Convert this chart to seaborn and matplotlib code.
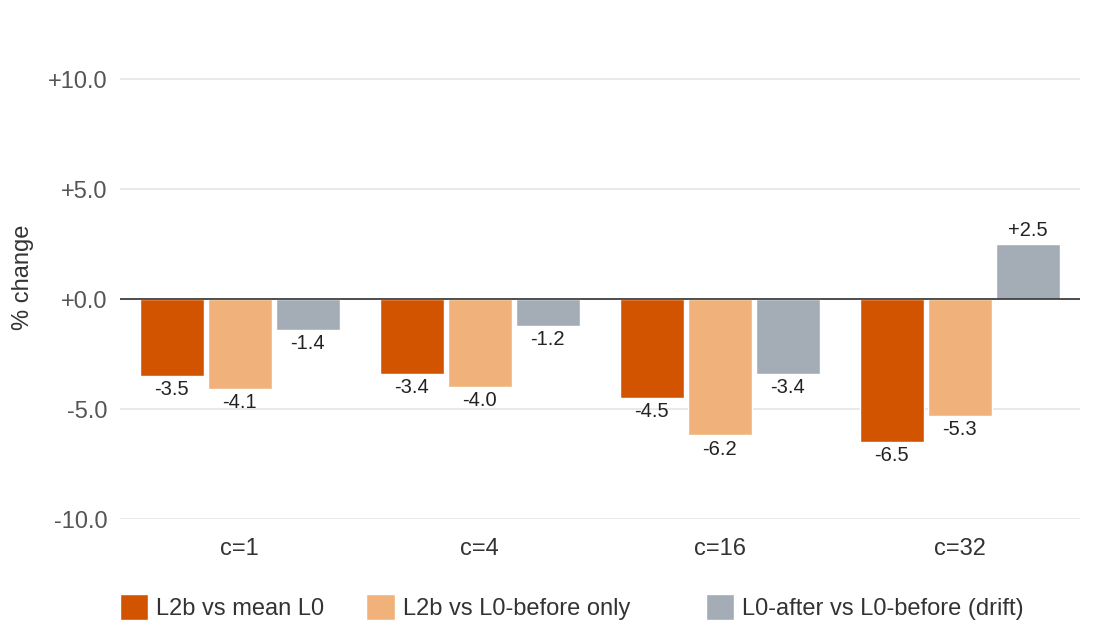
import pandas as pd
import matplotlib
matplotlib.use("Agg")
import matplotlib.pyplot as plt
import seaborn as sns

groups = ["c=1", "c=4", "c=16", "c=32"]
series = ["L2b vs mean L0", "L2b vs L0-before only", "L0-after vs L0-before (drift)"]
mean_l0 = [-3.5, -3.4, -4.5, -6.5]
before_only = [-4.1, -4.0, -6.2, -5.3]
drift = [-1.4, -1.2, -3.4, 2.5]
colors = ["#d35400", "#f0b27a", "#a4adb5"]

rows = []
for name, vals in zip(series, [mean_l0, before_only, drift]):
    for g, v in zip(groups, vals):
        rows.append({"group": g, "series": name, "value": v})
df = pd.DataFrame(rows)

sns.set_style("white")
plt.rcParams["font.family"] = ["Liberation Sans", "DejaVu Sans"]

fig = plt.figure(figsize=(11.2, 6.4), dpi=100)
ax = fig.add_axes([0.107, 0.189, 0.857, 0.756])

sns.barplot(data=df, x="group", y="value", hue="series", palette=colors,
            width=0.85, gap=0.06, ax=ax, saturation=1, legend=True)

for c in ax.containers:
    ax.bar_label(c, fmt="{:+.1f}", padding=3, fontsize=14.5, color="#222222")

ax.set_ylim(-10, 12)
ax.set_xlim(-0.5, 3.5)
ax.set_yticks([-10, -5, 0, 5, 10])
ax.set_yticklabels(["-10.0", "-5.0", "+0.0", "+5.0", "+10.0"])
ax.yaxis.grid(True, color="#e3e6ea", linewidth=1.2)
ax.set_axisbelow(True)
ax.axhline(0, color="#333333", linewidth=1.2, zorder=3)
for s in ax.spines.values():
    s.set_visible(False)
ax.tick_params(axis="y", length=0, labelsize=17, labelcolor="#555555", pad=9)
ax.tick_params(axis="x", length=0, labelsize=17, labelcolor="#333333", pad=14)
ax.set_xlabel("")
ax.set_ylabel("% change", fontsize=17, color="#333333", labelpad=10)

# legend entries placed one by one, like the original layout
handles, labels = ax.get_legend_handles_labels()
ax.get_legend().remove()
for h, lab, x in zip(handles, labels, [0.107, 0.327, 0.630]):
    fig.legend([h], [lab], loc="center left", bbox_to_anchor=(x, 0.052),
               frameon=False, fontsize=17, handlelength=1.2, handleheight=1.3,
               handletextpad=0.35, borderpad=0, borderaxespad=0,
               labelcolor="#333333")

fig.savefig("out.png", dpi=100)
